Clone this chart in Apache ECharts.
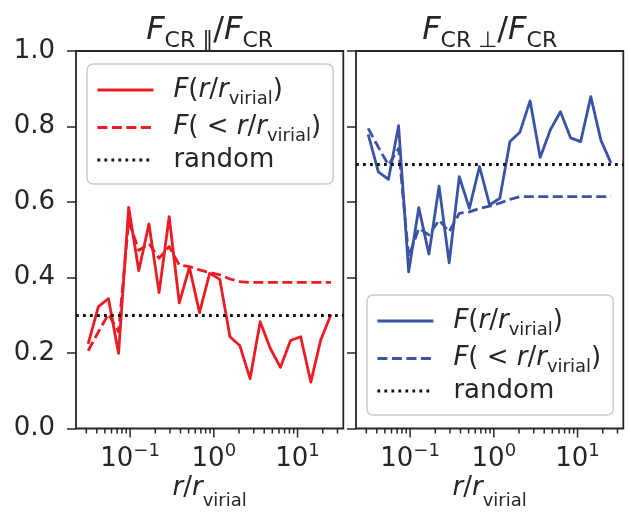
<!DOCTYPE html>
<html><head><meta charset="utf-8">
<script src="https://cdn.jsdelivr.net/npm/echarts@6/dist/echarts.min.js"></script>
<style>html,body{margin:0;padding:0;background:#fff}#c{width:630px;height:512px}</style>
</head><body><div id="c"></div>
<script>
// ---- data ----
const rRatio = [0.0316, 0.0418, 0.0552, 0.0729, 0.0962, 0.127, 0.168, 0.222, 0.293, 0.387, 0.511, 0.675, 0.891, 1.18, 1.56, 2.05, 2.71, 3.58, 4.73, 6.25, 8.25, 10.9, 14.4, 19.0, 25.1];
const parSolid = [0.224, 0.323, 0.344, 0.199, 0.586, 0.418, 0.542, 0.360, 0.561, 0.333, 0.427, 0.307, 0.411, 0.395, 0.243, 0.219, 0.132, 0.283, 0.212, 0.162, 0.233, 0.243, 0.123, 0.236, 0.302];
const parCum = [0.206, 0.256, 0.303, 0.256, 0.550, 0.472, 0.490, 0.451, 0.482, 0.433, 0.429, 0.420, 0.413, 0.407, 0.396, 0.389, 0.387, 0.387, 0.387, 0.387, 0.387, 0.387, 0.387, 0.387, 0.387];
const perpSolid = [0.779, 0.680, 0.660, 0.802, 0.415, 0.585, 0.462, 0.642, 0.439, 0.667, 0.583, 0.694, 0.592, 0.610, 0.760, 0.785, 0.868, 0.718, 0.791, 0.839, 0.770, 0.760, 0.879, 0.764, 0.703];
const perpCum = [0.795, 0.745, 0.698, 0.742, 0.455, 0.530, 0.513, 0.552, 0.521, 0.570, 0.574, 0.583, 0.589, 0.597, 0.607, 0.614, 0.614, 0.614, 0.614, 0.614, 0.614, 0.614, 0.614, 0.614, 0.614];
const randomPar = 0.3;
const randomPerp = 0.7;
const xMajorTicks = [0.1, 1, 10];
const xMinorTicks = [0.03, 0.04, 0.05, 0.06, 0.07, 0.08, 0.09, 0.2, 0.3, 0.4, 0.5, 0.6, 0.7, 0.8, 0.9, 2, 3, 4, 5, 6, 7, 8, 9, 20, 30];
const xRange = [0.0226, 35.2];
const yRange = [0, 1];
const yStep = 0.2;

// ---- style ----
const FONT = 'DejaVu Sans';
const TXT = '#262626';
const RED = '#ed1c24';
const BLUE = '#3a53a4';
const BLACK = '#111111';
const LW = 2.8;
const DASH = [10, 4.5];
const DOT = [2.8, 4.2];

const chart = echarts.init(document.getElementById('c'), null, {renderer: 'canvas'});

const gridTop = 51, gridH = 377.5, gridW = 267.3;
const gridLefts = [76, 356];

const textRich = {
  n: {fontFamily: FONT, fontSize: 26, lineHeight: 30, color: TXT},
  it: {fontFamily: FONT, fontSize: 26, fontStyle: 'italic', lineHeight: 30, color: TXT},
  sub: {fontFamily: FONT, fontSize: 18, lineHeight: 30, padding: [18, 0, 0, 0], color: TXT},
  gap: {fontFamily: FONT, fontSize: 26, width: 15, lineHeight: 30}
};
const tickRich = {
  b: {fontFamily: FONT, fontSize: 26, lineHeight: 30, color: TXT},
  sup: {fontFamily: FONT, fontSize: 18, lineHeight: 30, padding: [0, 0, 16, 0], color: TXT}
};
const legendLabels = {
  solidL: '{gap| }{it|F}{n|(}{it|r}{n|/}{it|r}{sub|virial}{n|)}',
  dashL: '{gap| }{it|F}{n|( < }{it|r}{n|/}{it|r}{sub|virial}{n|)}',
  randL: '{gap| }{n|random}',
  solidR: '{gap| }{it|F}{n|(}{it|r}{n|/}{it|r}{sub|virial}{n|)}',
  dashR: '{gap| }{it|F}{n|( < }{it|r}{n|/}{it|r}{sub|virial}{n|)}',
  randR: '{gap| }{n|random}'
};

function xLabel(v) {
  const e = Math.log10(v);
  if (Math.abs(e - Math.round(e)) > 1e-6) return '';
  const k = Math.round(e);
  return '{b|10}{sup|' + (k < 0 ? '\u2212' + (-k) : String(k)) + '}';
}

function makeXAxis(i) {
  return {
    gridIndex: i, type: 'log', logBase: 10, min: xRange[0], max: xRange[1],
    axisLine: {show: false}, axisTick: {show: false}, splitLine: {show: false},
    axisLabel: {formatter: xLabel, interval: 0, margin: 16, showMinLabel: false, showMaxLabel: false, rich: tickRich},
    name: '{it|r}{n|/}{it|r}{sub|virial}', nameLocation: 'middle', nameGap: 45,
    nameMoveOverlap: false,
    nameTextStyle: {rich: Object.assign({}, textRich, {sub: Object.assign({}, textRich.sub, {padding: [26, 0, 0, 0]})})}
  };
}
function makeYAxis(i) {
  return {
    gridIndex: i, type: 'value', min: yRange[0], max: yRange[1], interval: yStep,
    axisLine: {show: false}, splitLine: {show: false},
    axisTick: {show: true, inside: false, length: 9, lineStyle: {color: TXT, width: 1.5}},
    axisLabel: {show: i === 0, margin: 21, fontSize: 26, fontFamily: FONT, color: TXT, formatter: v => v.toFixed(1)}
  };
}
function tickSeries(i, values, len) {
  return {
    type: 'custom', xAxisIndex: i, yAxisIndex: i, clip: false, silent: true, z: 5,
    data: values.map(v => [v, yRange[0]]), encode: {x: 0, y: 1},
    renderItem: (params, api) => {
      const p = api.coord([api.value(0), api.value(1)]);
      return {type: 'line', shape: {x1: p[0], y1: p[1], x2: p[0], y2: p[1] + len},
              style: {stroke: TXT, lineWidth: 1.5}};
    }
  };
}
function lineSeries(name, i, ys, color, type) {
  return {
    name, type: 'line', xAxisIndex: i, yAxisIndex: i, symbol: 'none', z: 3,
    data: rRatio.map((x, k) => [x, ys[k]]),
    itemStyle: {color},
    lineStyle: {color, width: LW, type, join: 'round'}
  };
}
function randomSeries(name, i, yv) {
  return {
    name, type: 'line', xAxisIndex: i, yAxisIndex: i, symbol: 'none', z: 2, data: [],
    itemStyle: {color: BLACK}, lineStyle: {color: BLACK, width: LW, type: DOT},
    markLine: {silent: true, symbol: ['none', 'none'], label: {show: false},
      lineStyle: {color: BLACK, width: LW, type: DOT}, emphasis: {disabled: true},
      data: [{yAxis: yv}]}
  };
}
function makeLegend(left, top, names) {
  return {
    left, top, orient: 'vertical', data: names, selectedMode: false,
    itemWidth: 56, itemHeight: 14, itemGap: 1.5, padding: [8, 12, 11, 9],
    borderColor: '#cccccc', borderWidth: 1.5, borderRadius: 6,
    backgroundColor: 'rgba(255,255,255,0.8)',
    lineStyle: {width: LW},
    itemStyle: {opacity: 0, borderWidth: 0},
    formatter: n => legendLabels[n],
    textStyle: {rich: textRich}
  };
}

const titleRich = {
  tit: {fontFamily: FONT, fontSize: 32, fontStyle: 'italic', lineHeight: 40, fill: TXT},
  tn: {fontFamily: FONT, fontSize: 32, lineHeight: 40, fill: TXT},
  tsub: {fontFamily: FONT, fontSize: 22, lineHeight: 40, padding: [20, 0, 0, 0], fill: TXT}
};

const option = {
  animation: false,
  backgroundColor: '#ffffff',
  textStyle: {fontFamily: FONT},
  grid: gridLefts.map(l => ({left: l, top: gridTop, width: gridW, height: gridH, show: true,
    borderColor: TXT, borderWidth: 1.8, backgroundColor: 'transparent', containLabel: false, outerBoundsMode: 'none'})),
  xAxis: [makeXAxis(0), makeXAxis(1)],
  yAxis: [makeYAxis(0), makeYAxis(1)],
  legend: [makeLegend(87, 64, ['solidL', 'dashL', 'randL']), makeLegend(367, 295, ['solidR', 'dashR', 'randR'])],
  graphic: [
    {type: 'text', x: gridLefts[0] + gridW / 2, y: 31, style: {text: '{tit|F}{tsub|CR \u2225}{tn|/}{tit|F}{tsub|CR}', rich: titleRich, align: 'center', verticalAlign: 'middle', fill: TXT}},
    {type: 'text', x: gridLefts[1] + gridW / 2, y: 31, style: {text: '{tit|F}{tsub|CR \u22a5}{tn|/}{tit|F}{tsub|CR}', rich: titleRich, align: 'center', verticalAlign: 'middle', fill: TXT}}
  ],
  series: [
    randomSeries('randL', 0, randomPar),
    lineSeries('solidL', 0, parSolid, RED, 'solid'),
    lineSeries('dashL', 0, parCum, RED, DASH),
    randomSeries('randR', 1, randomPerp),
    lineSeries('solidR', 1, perpSolid, BLUE, 'solid'),
    lineSeries('dashR', 1, perpCum, BLUE, DASH),
    tickSeries(0, xMajorTicks, 9), tickSeries(0, xMinorTicks, 5),
    tickSeries(1, xMajorTicks, 9), tickSeries(1, xMinorTicks, 5)
  ]
};
chart.setOption(option);
</script></body></html>
